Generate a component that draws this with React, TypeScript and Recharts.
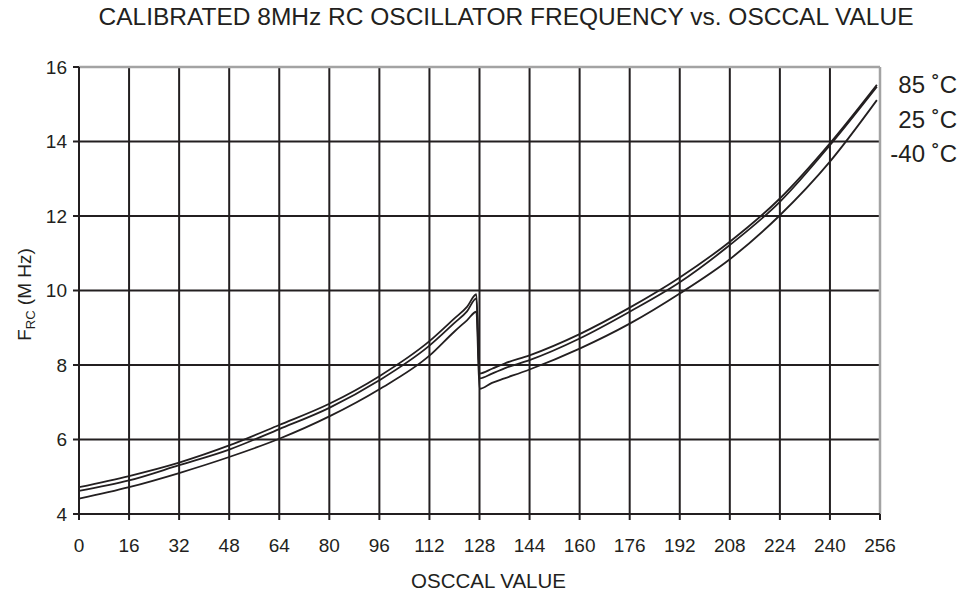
import { LineChart, Line, XAxis, YAxis, CartesianGrid, ReferenceLine } from "recharts";

const oscCal = [0, 16, 32, 48, 64, 80, 96, 112, 120, 124, 127, 128, 132, 136, 144, 160, 176, 192, 208, 224, 240, 255];
const freq85 = [4.72, 5.02, 5.38, 5.84, 6.39, 6.96, 7.7, 8.64, 9.25, 9.56, 9.9, 7.77, 7.9, 8.04, 8.26, 8.83, 9.54, 10.35, 11.31, 12.47, 13.95, 15.52];
const freq25 = [4.62, 4.9, 5.31, 5.73, 6.28, 6.85, 7.59, 8.52, 9.13, 9.44, 9.79, 7.64, 7.77, 7.91, 8.13, 8.71, 9.43, 10.22, 11.22, 12.38, 13.9, 15.47];
const freqM40 = [4.41, 4.72, 5.1, 5.53, 6.02, 6.62, 7.35, 8.25, 8.9, 9.2, 9.43, 7.36, 7.52, 7.64, 7.88, 8.44, 9.11, 9.92, 10.84, 12.02, 13.46, 15.11];

const xTicks = [0, 16, 32, 48, 64, 80, 96, 112, 128, 144, 160, 176, 192, 208, 224, 240, 256];
const yTicks = [4, 6, 8, 10, 12, 14, 16];
const seriesLabels = ["85 ˚C", "25 ˚C", "-40 ˚C"];

const FONT = '"Liberation Sans", Arial, Helvetica, sans-serif';
const INK = "#231f20";
const BORDER = "#a3a3a3";

const data = oscCal.map((osc, i) => ({
  osc,
  t85: freq85[i],
  t25: freq25[i],
  tm40: freqM40[i],
}));

function YLabel({ viewBox }: any) {
  const cx = viewBox.x + 31;
  const cy = viewBox.y + viewBox.height / 2 + 4;
  return (
    <text
      x={cx}
      y={cy}
      transform={`rotate(-90 ${cx} ${cy})`}
      textAnchor="middle"
      fontFamily={FONT}
      fontSize={19}
      fill={INK}
    >
      F<tspan fontSize={13} dy={4}>RC</tspan>
      <tspan dy={-4}> (M Hz)</tspan>
    </text>
  );
}

function XLabel({ viewBox }: any) {
  return (
    <text
      x={viewBox.x + viewBox.width / 2 + 9}
      y={588}
      textAnchor="middle"
      fontFamily={FONT}
      fontSize={20.5}
      fill={INK}
    >
      OSCCAL VALUE
    </text>
  );
}

export default function App() {
  return (
    <div style={{ position: "relative", width: 977, height: 594, background: "#fff", fontFamily: FONT }}>
      <style>{"body{margin:0}"}</style>
      <div
        style={{
          position: "absolute",
          top: 3,
          left: 0,
          width: 1012,
          textAlign: "center",
          fontSize: 24.5,
          color: INK,
          whiteSpace: "nowrap",
        }}
      >
        CALIBRATED 8MHz RC OSCILLATOR FREQUENCY vs. OSCCAL VALUE
      </div>
      <div
        style={{
          position: "absolute",
          top: 68,
          right: 20,
          textAlign: "right",
          fontSize: 24,
          lineHeight: "34.7px",
          color: INK,
        }}
      >
        {seriesLabels.map((s) => (
          <div key={s}>{s}</div>
        ))}
      </div>
      <LineChart
        width={977}
        height={594}
        data={data}
        margin={{ top: 67, right: 97, bottom: 0, left: 0 }}
      >
        <CartesianGrid stroke={INK} strokeWidth={2} />
        <XAxis
          dataKey="osc"
          type="number"
          domain={[0, 256]}
          ticks={xTicks}
          interval={0}
          height={80}
          tickSize={6}
          tickMargin={19}
          stroke={INK}
          strokeWidth={2}
          tick={{ fontSize: 19, fill: INK, fontFamily: FONT }}
          label={<XLabel />}
        />
        <YAxis
          type="number"
          domain={[4, 16]}
          ticks={yTicks}
          interval={0}
          width={79}
          tickSize={6}
          tickMargin={6}
          stroke={INK}
          strokeWidth={2}
          tick={{ fontSize: 19, fill: INK, fontFamily: FONT }}
          label={<YLabel />}
        />
        <ReferenceLine y={16} stroke={BORDER} strokeWidth={2.5} />
        <ReferenceLine x={256} stroke={BORDER} strokeWidth={2.5} />
        <Line
          type="monotone"
          dataKey="t85"
          name={seriesLabels[0]}
          stroke={INK}
          strokeWidth={1.8}
          dot={false}
          isAnimationActive={false}
        />
        <Line
          type="monotone"
          dataKey="t25"
          name={seriesLabels[1]}
          stroke={INK}
          strokeWidth={1.8}
          dot={false}
          isAnimationActive={false}
        />
        <Line
          type="monotone"
          dataKey="tm40"
          name={seriesLabels[2]}
          stroke={INK}
          strokeWidth={1.8}
          dot={false}
          isAnimationActive={false}
        />
      </LineChart>
    </div>
  );
}
